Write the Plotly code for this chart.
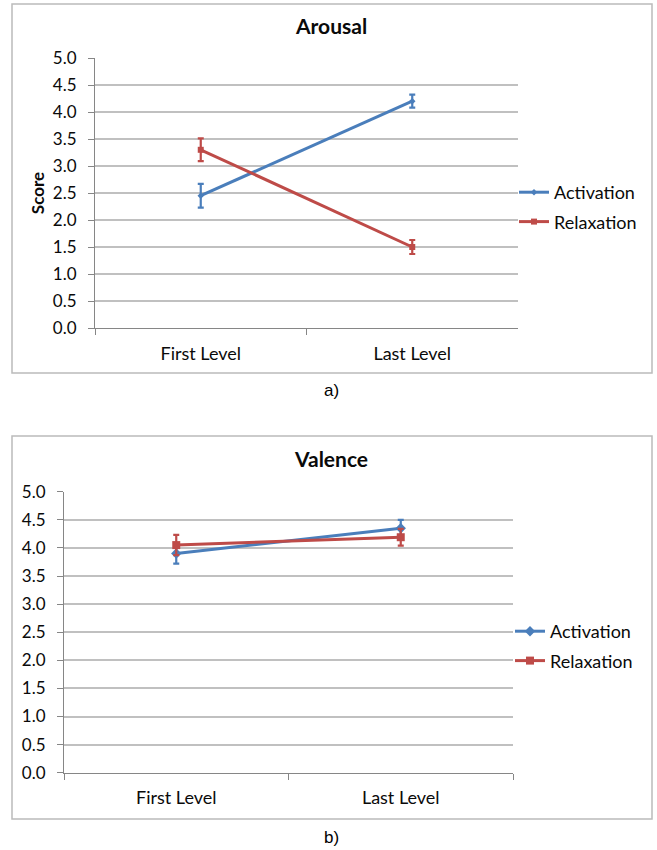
import plotly.graph_objects as go

W, H = 657, 850

categories = ["First Level", "Last Level"]
y_ticks = [0.0, 0.5, 1.0, 1.5, 2.0, 2.5, 3.0, 3.5, 4.0, 4.5, 5.0]
y_tick_labels = [f"{v:.1f}" for v in y_ticks]

arousal_activation = [2.45, 4.20]
arousal_activation_err = [0.22, 0.12]
arousal_relaxation = [3.30, 1.50]
arousal_relaxation_err = [0.21, 0.13]

valence_activation = [3.90, 4.35]
valence_activation_err = [0.18, 0.15]
valence_relaxation = [4.05, 4.19]
valence_relaxation_err = [0.18, 0.15]

BLUE = "#4A7EBB"
RED = "#BE4B48"
FONT = "Lato"
TXT = "#0a0a0a"


def px(x):
    return x / W


def py(y):
    return 1 - y / H


fig = go.Figure()


def add_series(xa, ya, y, err, name, color, symbol, msize, legend):
    fig.add_trace(go.Scatter(
        x=categories, y=y, name=name, mode="lines+markers",
        xaxis=xa, yaxis=ya, legend=legend, legendgroup=legend + name,
        line=dict(color=color, width=3),
        marker=dict(color=color, symbol=symbol, size=msize),
        error_y=dict(type="data", array=err, visible=True, color=color,
                     thickness=2.2, width=3),
    ))


add_series("x", "y", arousal_activation, arousal_activation_err, "Activation", BLUE, "diamond", 5, "legend")
add_series("x", "y", arousal_relaxation, arousal_relaxation_err, "Relaxation", RED, "square", 6, "legend")
add_series("x2", "y2", valence_activation, valence_activation_err, "Activation", BLUE, "diamond", 8, "legend2")
add_series("x2", "y2", valence_relaxation, valence_relaxation_err, "Relaxation", RED, "square", 8, "legend2")

axis_common_x = dict(
    type="category", range=[-0.5, 1.5], tickson="boundaries", ticks="outside",
    ticklen=6, tickcolor="#868686", tickwidth=1, showline=True, linecolor="#868686",
    linewidth=1, showgrid=False, zeroline=False, automargin=False,
    ticklabelstandoff=9,
    tickfont=dict(family=FONT, size=18, color=TXT), fixedrange=True,
)
axis_common_y = dict(
    range=[0, 5], tickvals=y_ticks, ticktext=y_tick_labels, ticks="outside",
    ticklen=6, tickcolor="#868686", showline=True, linecolor="#868686", linewidth=1,
    showgrid=True, gridcolor="#C0C0C0", gridwidth=1.5, zeroline=False, automargin=False,
    ticklabelstandoff=8,
    tickfont=dict(family=FONT, size=17, color=TXT), fixedrange=True,
)

legend_common = dict(
    font=dict(family=FONT, size=18, color=TXT), bgcolor="rgba(0,0,0,0)",
    xanchor="left", yanchor="middle", traceorder="grouped", tracegroupgap=3,
    itemwidth=30,
)

fig.update_layout(
    width=W, height=H, margin=dict(l=0, r=0, t=0, b=0, pad=0, autoexpand=False),
    paper_bgcolor="white", plot_bgcolor="white",
    xaxis=dict(domain=[px(95), px(518)], anchor="y", **axis_common_x),
    yaxis=dict(domain=[py(328), py(58)], anchor="x",
               title=dict(text="<b>Score</b>", font=dict(family=FONT, size=17, color=TXT), standoff=3),
               **axis_common_y),
    xaxis2=dict(domain=[px(64), px(513)], anchor="y2", **axis_common_x),
    yaxis2=dict(domain=[py(772.7), py(491.7)], anchor="x2", **axis_common_y),
    legend=dict(x=px(514), y=py(207), **legend_common),
    legend2=dict(x=px(510), y=py(646), **legend_common),
    showlegend=True,
)

# Chart frames
fig.add_shape(type="rect", xref="paper", yref="paper",
              x0=px(12), x1=px(652), y0=py(373), y1=py(4),
              line=dict(color="#BBBBBB", width=1.5), fillcolor="rgba(0,0,0,0)", layer="below")
fig.add_shape(type="rect", xref="paper", yref="paper",
              x0=px(12), x1=px(652), y0=py(819), y1=py(436),
              line=dict(color="#BBBBBB", width=1.5), fillcolor="rgba(0,0,0,0)", layer="below")

# Titles and captions
fig.add_annotation(text="<b>Arousal</b>", xref="paper", yref="paper", x=px(331), y=py(25),
                   showarrow=False, font=dict(family=FONT, size=21, color=TXT),
                   xanchor="center", yanchor="middle")
fig.add_annotation(text="<b>Valence</b>", xref="paper", yref="paper", x=px(331), y=py(458),
                   showarrow=False, font=dict(family=FONT, size=21, color=TXT),
                   xanchor="center", yanchor="middle")
fig.add_annotation(text="a)", xref="paper", yref="paper", x=px(331), y=py(391),
                   showarrow=False, font=dict(family="Liberation Sans", size=17, color="#000000"),
                   xanchor="center", yanchor="middle")
fig.add_annotation(text="b)", xref="paper", yref="paper", x=px(331), y=py(837),
                   showarrow=False, font=dict(family="Liberation Sans", size=17, color="#000000"),
                   xanchor="center", yanchor="middle")

fig.write_html("out.html")
